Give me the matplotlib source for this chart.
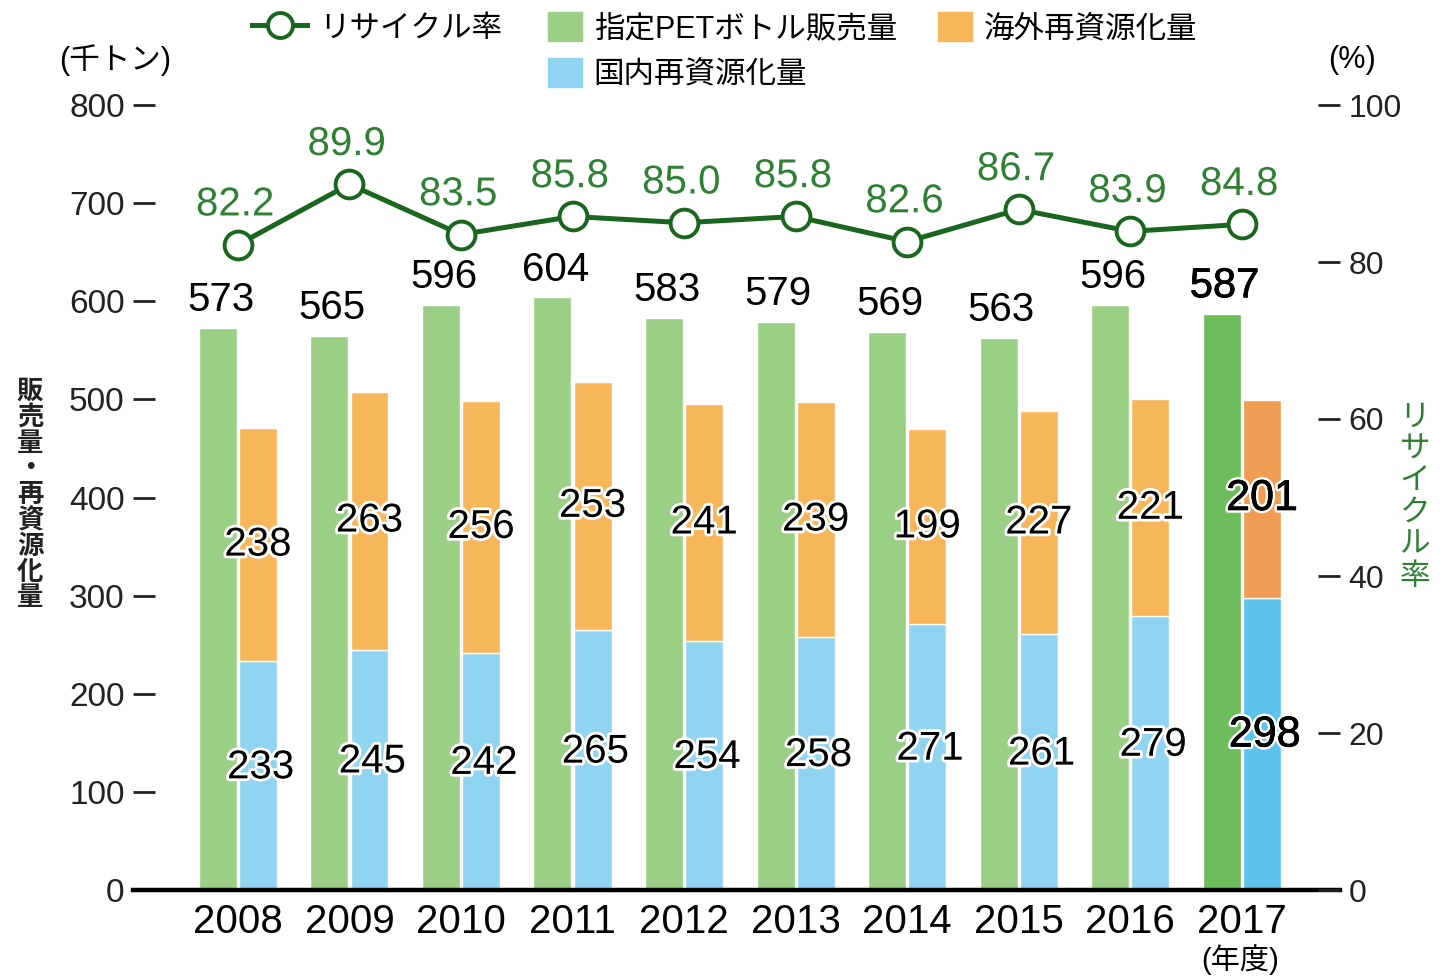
import matplotlib
matplotlib.use('Agg')
import matplotlib.pyplot as plt
import matplotlib.patheffects as pe
from matplotlib.lines import Line2D
from matplotlib.patches import Patch
import numpy as np

plt.rcParams['font.family'] = ['Liberation Sans', 'Noto Sans CJK JP', 'DejaVu Sans']

years = ['2008', '2009', '2010', '2011', '2012', '2013', '2014', '2015', '2016', '2017']
sales = [573, 565, 596, 604, 583, 579, 569, 563, 596, 587]
overseas = [238, 263, 256, 253, 241, 239, 199, 227, 221, 201]
domestic = [233, 245, 242, 265, 254, 258, 271, 261, 279, 298]
rate = [82.2, 89.9, 83.5, 85.8, 85.0, 85.8, 82.6, 86.7, 83.9, 84.8]

GREEN = '#9ccf86'
ORANGE = '#f8b65a'
BLUE = '#90d4f1'
GREEN_HI = '#6dbd5c'
ORANGE_HI = '#f09c52'
BLUE_HI = '#5cc2ee'
LINE = '#1b661f'
RATE_TXT = '#2f7f34'

W, H = 1440, 980
fig = plt.figure(figsize=(W / 100, H / 100), dpi=100)
ax = fig.add_axes([133 / W, 90 / H, (1340 - 133) / W, 785 / H])

x = np.arange(len(years))
off = 0.18
bw = 0.34
last = len(years) - 1

g_cols = [GREEN] * last + [GREEN_HI]
o_cols = [ORANGE] * last + [ORANGE_HI]
b_cols = [BLUE] * last + [BLUE_HI]

ax.bar(x - off, sales, bw, color=g_cols, edgecolor='white', linewidth=1, zorder=2)
ax.bar(x + off, domestic, bw, color=b_cols, edgecolor='white', linewidth=1, zorder=2)
ax.bar(x + off, overseas, bw, bottom=domestic, color=o_cols, edgecolor='white',
       linewidth=1, zorder=2)

halo = [pe.withStroke(linewidth=4, foreground='white')]
# 2017 numbers are a touch heavier in the original
heavy = [pe.withStroke(linewidth=4, foreground='white'),
         pe.withStroke(linewidth=0.5, foreground='black')]
for i in x:
    big = i == last
    fs = 30 if big else 29
    ax.annotate(str(sales[i]), (i - off, sales[i]), xytext=(2, 20),
                textcoords='offset points', ha='center', va='center',
                fontsize=fs, color='black', zorder=5,
                path_effects=heavy if big else None)
    ax.text(i + off, domestic[i] + overseas[i] / 2, str(overseas[i]),
            ha='center', va='center', fontsize=31 if big else 29,
            color='black', path_effects=heavy if big else halo, zorder=5)
    ax.annotate(str(domestic[i]), (i + off, domestic[i] / 2), xytext=(2, 6),
                textcoords='offset points', ha='center', va='center',
                fontsize=31 if big else 29, color='black',
                path_effects=heavy if big else halo, zorder=5)

ax.set_xlim(-0.94, 9.88)
ax.set_ylim(0, 800)
ax.set_yticks(range(0, 801, 100))
ax.set_xticks(x)
ax.set_xticklabels(years)
ax.tick_params(axis='x', length=0, pad=9, labelsize=29)
ax.tick_params(axis='y', direction='in', length=16, width=2, pad=6, labelsize=24,
               colors='#222222')
for s in ['top', 'right', 'left']:
    ax.spines[s].set_visible(False)
ax.spines['bottom'].set_linewidth(3.2)
ax.spines['bottom'].set_zorder(4)

ax2 = ax.twinx()
ax2.set_ylim(0, 100)
ax2.set_yticks(range(0, 101, 20))
ax2.tick_params(axis='y', direction='in', length=16, width=2, pad=6, labelsize=23,
                colors='#222222')
for s in ['top', 'right', 'left', 'bottom']:
    ax2.spines[s].set_visible(False)
ax2.plot(x, rate, color=LINE, linewidth=3.6, marker='o', markersize=20,
         markerfacecolor='white', markeredgecolor=LINE, markeredgewidth=2.8,
         zorder=3)
for i in x:
    ax2.annotate(f'{rate[i]:.1f}', (i, rate[i]), xytext=(-2, 29),
                 textcoords='offset points', ha='center', va='center',
                 fontsize=29, color=RATE_TXT, path_effects=halo)

# unit labels
fig.text(115 / W, 1 - 60 / H, '(千トン)', ha='center', va='center', fontsize=22)
fig.text(1352 / W, 1 - 60 / H, '(%)', ha='center', va='center', fontsize=22)
fig.text(1240 / W, 1 - 960 / H, '(年度)', ha='center', va='center', fontsize=21)

# vertical axis titles
fig.text(30 / W, 1 - 495 / H, '\n'.join('販売量・再資源化量'), ha='center',
         va='center', fontsize=19, fontweight='bold', color='#222222',
         linespacing=1.08)
fig.text(1415 / W, 1 - 497 / H, '\n'.join('リサイクル率'), ha='center',
         va='center', fontsize=22, color=RATE_TXT, linespacing=1.08)

# legend
h_line = Line2D([], [], color=LINE, linewidth=3.6, marker='o', markersize=18,
                markerfacecolor='white', markeredgecolor=LINE, markeredgewidth=2.8)
leg_kw = dict(frameon=False, fontsize=22, handletextpad=0.4, borderpad=0,
              borderaxespad=0, labelspacing=0.45, handleheight=1.1)
top = 1 - 12 / H
l1 = fig.legend([h_line], ['リサイクル率'], loc='upper left', handlelength=1.8,
                bbox_to_anchor=(252 / W, top), **leg_kw)
l2 = fig.legend([Patch(color=GREEN), Patch(color=BLUE)],
                ['指定PETボトル販売量', '国内再資源化量'], loc='upper left',
                handlelength=1.1, bbox_to_anchor=(548 / W, top), **leg_kw)
l3 = fig.legend([Patch(color=ORANGE)], ['海外再資源化量'], loc='upper left',
                handlelength=1.1, bbox_to_anchor=(938 / W, top), **leg_kw)

fig.savefig('out.png', dpi=100)
